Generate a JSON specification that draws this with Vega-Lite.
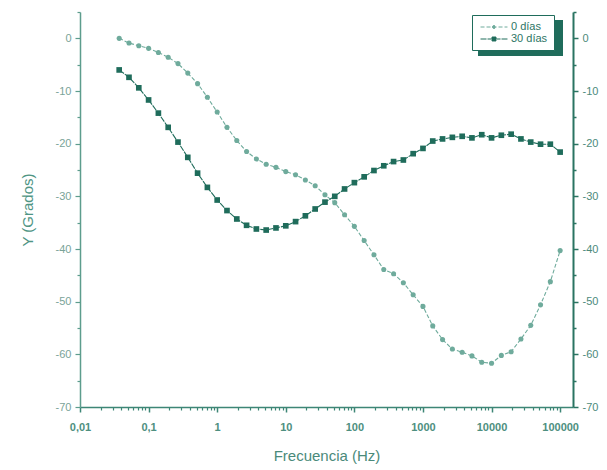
{
  "$schema": "https://vega.github.io/schema/vega-lite/v6.json",
  "width": 493,
  "height": 395,
  "autosize": {"type": "none"},
  "padding": {"left": 80, "top": 12, "right": 34, "bottom": 63},
  "background": "white",
  "config": {"view": {"stroke": null}, "font": "Liberation Sans"},
  "data": {"values": [
    {"f": 0.03728, "y": 0, "s": "0 días"},
    {"f": 0.05179, "y": -0.9, "s": "0 días"},
    {"f": 0.07197, "y": -1.4, "s": "0 días"},
    {"f": 0.1, "y": -1.9, "s": "0 días"},
    {"f": 0.1389, "y": -2.7, "s": "0 días"},
    {"f": 0.1931, "y": -3.6, "s": "0 días"},
    {"f": 0.2683, "y": -4.8, "s": "0 días"},
    {"f": 0.3728, "y": -6.6, "s": "0 días"},
    {"f": 0.5179, "y": -8.6, "s": "0 días"},
    {"f": 0.7197, "y": -11.2, "s": "0 días"},
    {"f": 1, "y": -14.0, "s": "0 días"},
    {"f": 1.389, "y": -16.9, "s": "0 días"},
    {"f": 1.931, "y": -19.4, "s": "0 días"},
    {"f": 2.683, "y": -21.5, "s": "0 días"},
    {"f": 3.728, "y": -22.9, "s": "0 días"},
    {"f": 5.179, "y": -23.9, "s": "0 días"},
    {"f": 7.197, "y": -24.5, "s": "0 días"},
    {"f": 10, "y": -25.3, "s": "0 días"},
    {"f": 13.89, "y": -25.9, "s": "0 días"},
    {"f": 19.31, "y": -26.9, "s": "0 días"},
    {"f": 26.83, "y": -28.0, "s": "0 días"},
    {"f": 37.28, "y": -29.7, "s": "0 días"},
    {"f": 51.79, "y": -31.2, "s": "0 días"},
    {"f": 71.97, "y": -33.5, "s": "0 días"},
    {"f": 100, "y": -35.7, "s": "0 días"},
    {"f": 138.9, "y": -38.4, "s": "0 días"},
    {"f": 193.1, "y": -41.1, "s": "0 días"},
    {"f": 268.3, "y": -43.9, "s": "0 días"},
    {"f": 372.8, "y": -44.7, "s": "0 días"},
    {"f": 517.9, "y": -46.4, "s": "0 días"},
    {"f": 719.7, "y": -48.7, "s": "0 días"},
    {"f": 1000, "y": -50.9, "s": "0 días"},
    {"f": 1389, "y": -54.6, "s": "0 días"},
    {"f": 1931, "y": -57.2, "s": "0 días"},
    {"f": 2683, "y": -59.0, "s": "0 días"},
    {"f": 3728, "y": -59.6, "s": "0 días"},
    {"f": 5179, "y": -60.3, "s": "0 días"},
    {"f": 7197, "y": -61.5, "s": "0 días"},
    {"f": 10000, "y": -61.7, "s": "0 días"},
    {"f": 13895, "y": -60.2, "s": "0 días"},
    {"f": 19307, "y": -59.5, "s": "0 días"},
    {"f": 26827, "y": -57.1, "s": "0 días"},
    {"f": 37276, "y": -54.5, "s": "0 días"},
    {"f": 51795, "y": -50.6, "s": "0 días"},
    {"f": 71969, "y": -46.2, "s": "0 días"},
    {"f": 100000, "y": -40.3, "s": "0 días"},
    {"f": 0.03728, "y": -6.0, "s": "30 días"},
    {"f": 0.05179, "y": -7.4, "s": "30 días"},
    {"f": 0.07197, "y": -9.4, "s": "30 días"},
    {"f": 0.1, "y": -11.7, "s": "30 días"},
    {"f": 0.1389, "y": -14.2, "s": "30 días"},
    {"f": 0.1931, "y": -16.9, "s": "30 días"},
    {"f": 0.2683, "y": -19.7, "s": "30 días"},
    {"f": 0.3728, "y": -22.6, "s": "30 días"},
    {"f": 0.5179, "y": -25.6, "s": "30 días"},
    {"f": 0.7197, "y": -28.3, "s": "30 días"},
    {"f": 1, "y": -30.7, "s": "30 días"},
    {"f": 1.389, "y": -32.7, "s": "30 días"},
    {"f": 1.931, "y": -34.3, "s": "30 días"},
    {"f": 2.683, "y": -35.5, "s": "30 días"},
    {"f": 3.728, "y": -36.2, "s": "30 días"},
    {"f": 5.179, "y": -36.4, "s": "30 días"},
    {"f": 7.197, "y": -36.0, "s": "30 días"},
    {"f": 10, "y": -35.6, "s": "30 días"},
    {"f": 13.89, "y": -34.8, "s": "30 días"},
    {"f": 19.31, "y": -33.7, "s": "30 días"},
    {"f": 26.83, "y": -32.4, "s": "30 días"},
    {"f": 37.28, "y": -31.1, "s": "30 días"},
    {"f": 51.79, "y": -30.0, "s": "30 días"},
    {"f": 71.97, "y": -28.6, "s": "30 días"},
    {"f": 100, "y": -27.4, "s": "30 días"},
    {"f": 138.9, "y": -26.3, "s": "30 días"},
    {"f": 193.1, "y": -25.1, "s": "30 días"},
    {"f": 268.3, "y": -24.2, "s": "30 días"},
    {"f": 372.8, "y": -23.4, "s": "30 días"},
    {"f": 517.9, "y": -23.1, "s": "30 días"},
    {"f": 719.7, "y": -21.9, "s": "30 días"},
    {"f": 1000, "y": -20.9, "s": "30 días"},
    {"f": 1389, "y": -19.5, "s": "30 días"},
    {"f": 1931, "y": -19.1, "s": "30 días"},
    {"f": 2683, "y": -18.8, "s": "30 días"},
    {"f": 3728, "y": -18.6, "s": "30 días"},
    {"f": 5179, "y": -18.9, "s": "30 días"},
    {"f": 7197, "y": -18.3, "s": "30 días"},
    {"f": 10000, "y": -18.9, "s": "30 días"},
    {"f": 13895, "y": -18.4, "s": "30 días"},
    {"f": 19307, "y": -18.2, "s": "30 días"},
    {"f": 26827, "y": -19.1, "s": "30 días"},
    {"f": 37276, "y": -19.7, "s": "30 días"},
    {"f": 51795, "y": -20.1, "s": "30 días"},
    {"f": 71969, "y": -20.1, "s": "30 días"},
    {"f": 100000, "y": -21.6, "s": "30 días"}
  ]},
  "layer": [
    {
      "mark": {"type": "line", "strokeWidth": 1.1, "clip": true},
      "encoding": {
        "x": {"field": "f", "type": "quantitative",
          "scale": {"type": "log", "domain": [0.01, 154000], "nice": false},
          "axis": {"orient": "bottom", "values": [0.01, 0.1, 1, 10, 100, 1000, 10000, 100000],
            "labelExpr": "datum.value < 1 ? replace(toString(datum.value), '.', ',') : toString(datum.value)",
            "grid": false, "tickSize": 5, "tickColor": "#3d8676", "tickWidth": 1.5,
            "domainColor": "#3d8676", "domainWidth": 1.5,
            "labelColor": "#4e8f80", "labelFontSize": 11, "labelFontWeight": "bold", "labelPadding": 9,
            "labelFlush": false, "labelOverlap": false,
            "title": "Frecuencia (Hz)", "titleColor": "#4a8a7a", "titleFontSize": 15,
            "titleFontWeight": "normal", "titlePadding": 16}},
        "y": {"field": "y", "type": "quantitative",
          "scale": {"domain": [-70, 5], "nice": false, "zero": false},
          "axis": {"orient": "left", "values": [-70, -60, -50, -40, -30, -20, -10, 0],
            "labelExpr": "toString(datum.value)",
            "grid": false, "tickSize": 5, "tickColor": "#5d9d8d", "tickWidth": 1.2,
            "domainColor": "#5d9d8d", "domainWidth": 1.5,
            "labelColor": "#7aa398", "labelFontSize": 11, "labelPadding": 4, "labelFlush": false,
            "title": "Y (Grados)", "titleColor": "#4f9584", "titleFontSize": 15,
            "titleFontWeight": "normal", "titlePadding": 20}},
        "strokeDash": {"field": "s", "type": "nominal",
          "scale": {"domain": ["0 días", "30 días"], "range": [[4, 2], [6, 1]]}, "legend": null},
        "color": {"field": "s", "type": "nominal",
          "scale": {"domain": ["0 días", "30 días"], "range": ["#6fab9c", "#1f6c5b"]},
          "legend": {"orient": "none", "legendX": 392, "legendY": 3, "title": null,
            "direction": "vertical", "fillColor": "white", "strokeColor": "#1f6c5b",
            "padding": 6, "symbolSize": 121, "symbolStrokeWidth": 1, "symbolOffset": 10,
            "labelFontSize": 11, "labelColor": "#2d7565", "labelOffset": 11, "rowPadding": 1,
            "labelExpr": "datum.label + '\u00a0\u00a0\u00a0\u00a0\u00a0\u00a0'",
            "zindex": 2,
            "encode": {"symbols": {"update": {
              "shape": {"signal": "datum.value === '0 días' ? 'M-2.45,0H2.45M-0.28,0A0.28,0.28 0 1,0 0.28,0A0.28,0.28 0 1,0 -0.28,0Z' : 'M-2.45,0H2.45M-0.36,-0.36H0.36V0.36H-0.36Z'"},
              "fill": {"scale": "color", "field": "value"},
              "stroke": {"scale": "color", "field": "value"},
              "strokeWidth": {"value": 1}}}}}}
      }
    },
    {
      "transform": [{"filter": "datum.s === '0 días'"}],
      "mark": {"type": "point", "filled": true, "opacity": 1, "size": 26, "shape": "circle", "color": "#6fab9c"},
      "encoding": {
        "x": {"field": "f", "type": "quantitative",
          "axis": {"orient": "bottom", "values": [0.02,0.03,0.04,0.05,0.06,0.07,0.08,0.09,0.2,0.3,0.4,0.5,0.6,0.7,0.8,0.9,2,3,4,5,6,7,8,9,20,30,40,50,60,70,80,90,200,300,400,500,600,700,800,900,2000,3000,4000,5000,6000,7000,8000,9000,20000,30000,40000,50000,60000,70000,80000,90000],
            "labels": false, "domain": false, "grid": false, "tickSize": 3, "tickColor": "#3d8676", "tickWidth": 1.2, "title": null}},
        "y": {"field": "y", "type": "quantitative",
          "axis": {"orient": "right", "values": [-70, -60, -50, -40, -30, -20, -10, 0],
            "labelExpr": "toString(datum.value)",
            "grid": false, "tickSize": 5, "tickColor": "#2a7462", "tickWidth": 1.5,
            "domainColor": "#2a7462", "domainWidth": 2,
            "labelColor": "#4d8a7b", "labelFontSize": 11, "labelPadding": 4, "labelFlush": false,
            "title": null}}
      }
    },
    {
      "transform": [{"filter": "datum.s === '30 días'"}],
      "mark": {"type": "point", "filled": true, "opacity": 1, "size": 32, "shape": "square", "color": "#1f6c5b"},
      "encoding": {
        "x": {"field": "f", "type": "quantitative", "axis": null},
        "y": {"field": "y", "type": "quantitative", "axis": null}
      }
    },
    {
      "mark": {"type": "point", "opacity": 0},
      "encoding": {
        "x": {"field": "f", "type": "quantitative", "axis": null},
        "y": {"field": "y", "type": "quantitative",
          "axis": {"orient": "left", "values": [-65, -55, -45, -35, -25, -15, -5, 5],
            "labels": false, "domain": false, "grid": false, "tickSize": 3, "tickColor": "#5d9d8d", "tickWidth": 1.2, "title": null}},
        "fill": {"field": "y", "type": "quantitative",
          "scale": {"range": ["#1f6c5b", "#1f6c5b"]},
          "legend": {"type": "gradient", "orient": "none", "legendX": 398, "legendY": 8, "title": null,
            "direction": "horizontal", "gradientLength": 85, "gradientThickness": 36,
            "gradientStrokeWidth": 0, "padding": 0, "labelExpr": "''", "labelOpacity": 0,
            "tickCount": 2, "zindex": 1}}
      }
    },
    {
      "mark": {"type": "point", "opacity": 0},
      "encoding": {
        "x": {"field": "f", "type": "quantitative", "axis": null},
        "y": {"field": "y", "type": "quantitative",
          "axis": {"orient": "right", "values": [-65, -55, -45, -35, -25, -15, -5, 5],
            "labels": false, "domain": false, "grid": false, "tickSize": 3, "tickColor": "#2a7462", "tickWidth": 1.5, "title": null}}
      }
    }
  ],
  "resolve": {"axis": {"x": "independent", "y": "independent"}}
}
